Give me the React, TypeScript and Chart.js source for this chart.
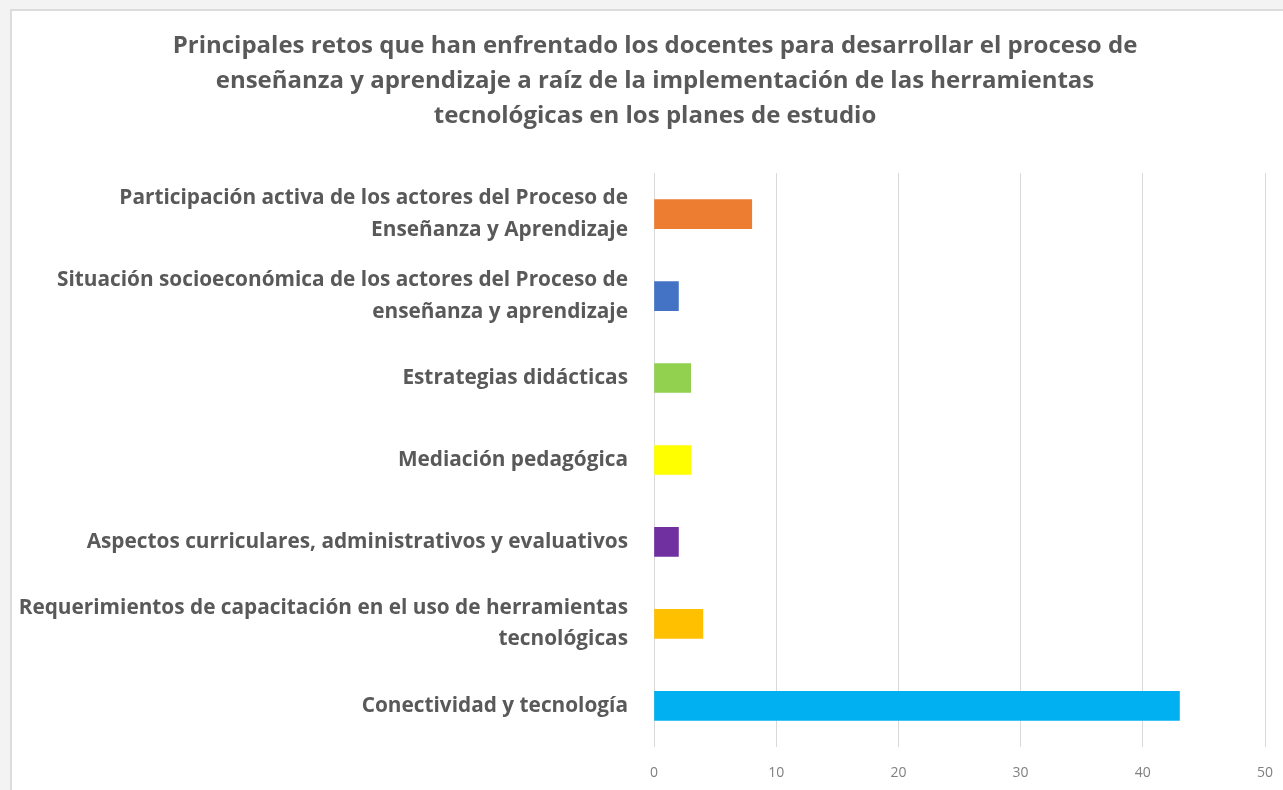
import React, { useEffect, useRef } from "react";
import { Chart, registerables } from "chart.js";

Chart.register(...registerables);

const titleLines: string[] = [
  "Principales retos que han enfrentado los docentes para desarrollar el proceso de",
  "enseñanza y aprendizaje a raíz de la implementación de las herramientas",
  "tecnológicas en los planes de estudio",
];

const categories: string[][] = [
  ["Participación activa de los actores del Proceso de", "Enseñanza y Aprendizaje"],
  ["Situación socioeconómica de los actores del Proceso de", "enseñanza y aprendizaje"],
  ["Estrategias didácticas"],
  ["Mediación pedagógica"],
  ["Aspectos curriculares, administrativos y evaluativos"],
  ["Requerimientos de capacitación en el uso de herramientas", "tecnológicas"],
  ["Conectividad y tecnología"],
];

const values: number[] = [8, 2, 3, 3, 2, 4, 43];

const barColors: string[] = [
  "#ED7D31",
  "#4472C4",
  "#92D050",
  "#FFFF00",
  "#7030A0",
  "#FFC000",
  "#00B0F0",
];

const xTicks: number[] = [0, 10, 20, 30, 40, 50];

// widen the y-axis label clip area to the canvas edge (labels stay right-aligned)
const widenLabelArea = {
  id: "widenLabelArea",
  afterLayout(chart: any) {
    if (chart.scales && chart.scales.y) chart.scales.y.left = 0;
  },
};

export default function App() {
  const canvasRef = useRef<HTMLCanvasElement | null>(null);

  useEffect(() => {
    document.body.style.margin = "0";
    document.body.style.background = "#f3f3f3";
    document.body.style.overflow = "hidden";
    const canvas = canvasRef.current;
    if (!canvas) return;
    const chart = new Chart(canvas, {
      type: "bar",
      data: {
        labels: categories,
        datasets: [
          {
            data: values,
            backgroundColor: barColors,
            borderWidth: 0,
            barThickness: 29,
          },
        ],
      },
      plugins: [widenLabelArea],
      options: {
        indexAxis: "y",
        animation: false,
        responsive: false,
        maintainAspectRatio: false,
        layout: { padding: { left: 35, right: 28, top: 0, bottom: 0 } },
        plugins: {
          legend: { display: false },
          tooltip: { enabled: false },
          title: {
            display: true,
            text: titleLines,
            color: "#595959",
            font: { family: "Open Sans", size: 24, weight: "bold", lineHeight: 1.46 },
            padding: { top: 20, bottom: 39 },
          },
        },
        scales: {
          x: {
            min: 0,
            max: 50,
            afterBuildTicks: (axis: any) => {
              axis.ticks = xTicks.map((v) => ({ value: v }));
            },
            grid: { color: "#d9d9d9", lineWidth: 1, drawTicks: false },
            border: { display: false },
            ticks: {
              color: "#808080",
              padding: 18,
              font: { family: "Open Sans", size: 14 },
            },
          },
          y: {
            afterFit: (scale: any) => {
              scale.width = 609;
            },
            grid: { display: false, drawTicks: false },
            border: { display: false },
            ticks: {
              color: "#595959",
              padding: 26,
              font: { family: "Open Sans", size: 20.8, weight: "bold", lineHeight: 1.5 },
            },
          },
        },
      },
    });
    return () => chart.destroy();
  }, []);

  return (
    <div
      style={{
        position: "absolute",
        left: 10,
        top: 9,
        width: 1285,
        height: 800,
        background: "#ffffff",
        border: "2px solid #dcdcdc",
        boxSizing: "border-box",
      }}
    >
      <canvas
        ref={canvasRef}
        width={1283}
        height={795}
        style={{ position: "absolute", left: -2, top: -2, display: "block" }}
      />
    </div>
  );
}
